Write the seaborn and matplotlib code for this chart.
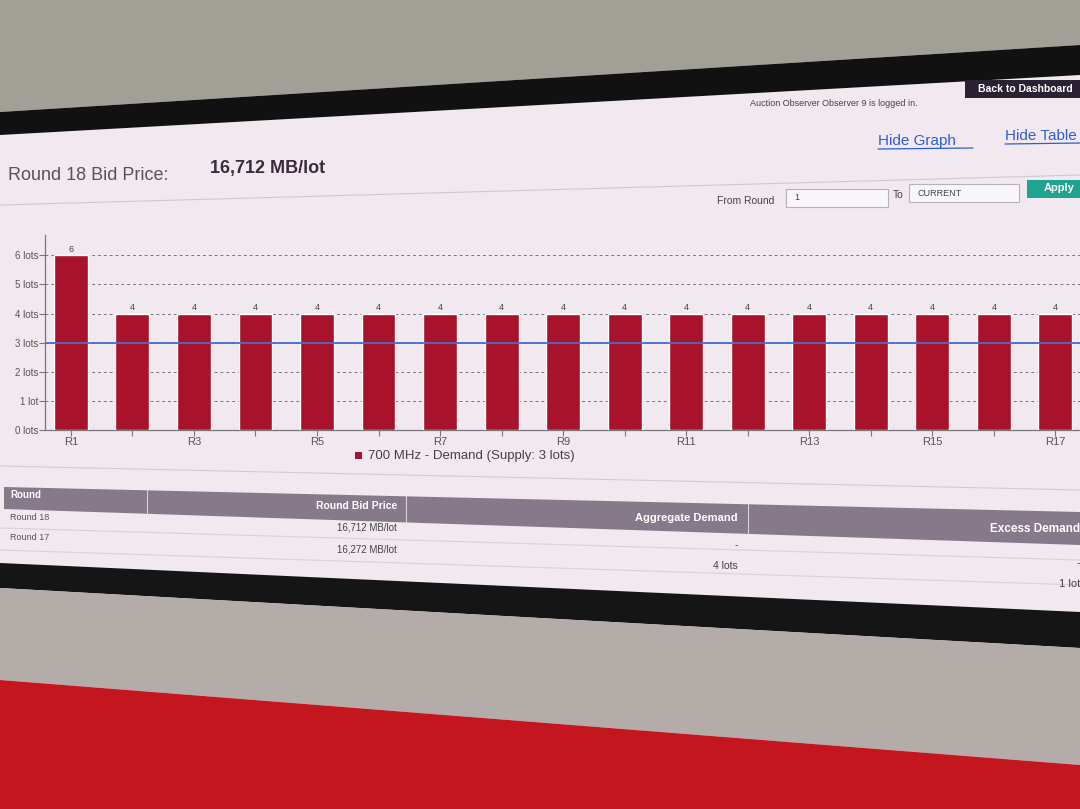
import matplotlib
matplotlib.use("Agg")
import matplotlib.pyplot as plt
import seaborn as sns
import pandas as pd
from matplotlib.patches import Polygon, Rectangle

# -----------------------
# Data
# -----------------------
rounds = [f"R{i}" for i in range(1, 18)]
demand = [6, 4, 4, 4, 4, 4, 4, 4, 4, 4, 4, 4, 4, 4, 4, 4, 4]
supply = 3
y_ticks = [0, 1, 2, 3, 4, 5, 6]
y_labels = ["0 lots", "1 lot", "2 lots", "3 lots", "4 lots", "5 lots", "6 lots"]

table_cols = ["Round", "Round Bid Price", "Aggregate Demand", "Excess Demand"]
table_rounds = ["Round 18", "Round 17"]
table_price = ["16,712 MB/lot", "16,272 MB/lot"]
table_agg = ["-", "4 lots"]
table_excess = ["-", "1 lot"]

df = pd.DataFrame({"round": rounds, "demand": demand})

BAR = "#a8122a"
LINE = "#4a6cc4"
SCREEN = "#f1e8f0"

sns.set_theme(style="white")
plt.rcParams["font.family"] = ["Liberation Sans", "DejaVu Sans"]

W, H = 1080, 809
fig = plt.figure(figsize=(W / 100, H / 100), dpi=100)
fig.patch.set_facecolor(SCREEN)


def fy(y):
    # pixel row -> figure fraction
    return 1 - y / H


def fpoly(pts, color, z=0):
    fig.patches.append(Polygon([(x / W, fy(y)) for x, y in pts], closed=True,
                               transform=fig.transFigure, facecolor=color,
                               edgecolor="none", zorder=z))


def fline(x0, y0, x1, y1, color="#d8d0da", lw=0.8):
    fig.lines.append(plt.Line2D([x0 / W, x1 / W], [fy(y0), fy(y1)],
                                transform=fig.transFigure, color=color, lw=lw))


# room around the screen
fpoly([(0, 0), (1080, 0), (1080, 45), (0, 112)], "#a29f97")
fpoly([(0, 112), (1080, 45), (1080, 75), (0, 135)], "#111111")
fpoly([(0, 563), (1080, 612), (1080, 648), (0, 588)], "#151515")
fpoly([(0, 588), (1080, 648), (1080, 765), (0, 680)], "#b4aca8")
fpoly([(0, 680), (1080, 765), (1080, 809), (0, 809)], "#c4161f")

# -----------------------
# Header
# -----------------------
fig.text(750 / W, fy(103), "Auction Observer Observer 9 is logged in.", fontsize=6.5,
         color="#444444", va="center")
fig.patches.append(Rectangle((965 / W, fy(98)), 115 / W, 18 / H, transform=fig.transFigure,
                             facecolor="#2a2233", edgecolor="none"))
fig.text(978 / W, fy(89), "Back to Dashboard", fontsize=7.5, color="white",
         fontweight="bold", va="center")
fig.text(878 / W, fy(141), "Hide Graph", fontsize=11, color="#2f5fc8", va="center")
fig.text(1005 / W, fy(136), "Hide Table", fontsize=11, color="#2f5fc8", va="center")
fline(878, 149, 973, 148, color="#2f5fc8", lw=0.9)
fline(1005, 144, 1080, 143, color="#2f5fc8", lw=0.9)

fig.text(8 / W, fy(176), "Round 18 Bid Price:", fontsize=13, color="#555555", va="center")
fig.text(210 / W, fy(168), "16,712 MB/lot", fontsize=13, color="#3a2c3a",
         fontweight="bold", va="center")
fline(0, 205, 1080, 175, color="#cfc8d2")

fig.text(717 / W, fy(201), "From Round", fontsize=7.5, color="#444444", va="center")
fig.patches.append(Rectangle((786 / W, fy(207)), 102 / W, 18 / H, transform=fig.transFigure,
                             facecolor="#f8f6f9", edgecolor="#b8b0ba", lw=0.8))
fig.text(794 / W, fy(198), "1", fontsize=6.5, color="#444444", va="center")
fig.text(893 / W, fy(195), "To", fontsize=7.5, color="#444444", va="center")
fig.patches.append(Rectangle((909 / W, fy(202)), 110 / W, 18 / H, transform=fig.transFigure,
                             facecolor="#f8f6f9", edgecolor="#b8b0ba", lw=0.8))
fig.text(918 / W, fy(193), "CURRENT", fontsize=6.5, color="#444444", va="center")
fig.patches.append(Rectangle((1027 / W, fy(198)), 60 / W, 18 / H, transform=fig.transFigure,
                             facecolor="#1fa58f", edgecolor="none"))
fig.text(1044 / W, fy(188), "Apply", fontsize=8, color="white", fontweight="bold", va="center")

# -----------------------
# Bar chart
# -----------------------
ax = fig.add_axes([45 / W, fy(430), 1035 / W, (430 - 235) / H])
ax.set_facecolor(SCREEN)
sns.barplot(data=df, x="round", y="demand", color=BAR, width=0.55,
            saturation=1, ax=ax, zorder=3)
ax.axhline(supply, color=LINE, lw=1.3, zorder=4)
for y in y_ticks[1:]:
    ax.axhline(y, color="#777777", lw=0.7, ls=(0, (3, 3)), zorder=1)
ax.bar_label(ax.containers[0], fontsize=6.5, color="#444444", padding=1)

ax.set_xlim(-0.42, 16.4)
ax.set_ylim(0, 6.7)
ax.set_yticks(y_ticks)
ax.set_yticklabels(y_labels, fontsize=7, color="#555555")
ax.set_xticks(range(len(rounds)))
ax.set_xticklabels([r if i % 2 == 0 else "" for i, r in enumerate(rounds)],
                   fontsize=8, color="#555555")
ax.tick_params(axis="both", length=4, width=0.8, color="#777777", left=True, bottom=True, pad=1)
ax.set_xlabel("")
ax.set_ylabel("")
for s in ["top", "right"]:
    ax.spines[s].set_visible(False)
for s in ["left", "bottom"]:
    ax.spines[s].set_color("#777777")
    ax.spines[s].set_linewidth(0.9)

# legend under the plot
fig.patches.append(Rectangle((355 / W, fy(459)), 7 / W, 7 / H, transform=fig.transFigure,
                             facecolor=BAR, edgecolor="none"))
fig.text(368 / W, fy(456), "700 MHz - Demand (Supply: 3 lots)", fontsize=9.5,
         color="#444444", va="center")
fline(0, 466, 1080, 490, color="#d2cbd5")

# -----------------------
# Table
# -----------------------
# header band, slanted like the photographed screen
fpoly([(4, 487), (1080, 512), (1080, 545), (4, 509)], "#86798a", z=1)
for xv in [147, 406, 748]:
    top = 487 + 25 * (xv - 4) / 1076
    bot = 509 + 36 * (xv - 4) / 1076
    fline(xv, top, xv, bot, color="#d8d0da")
fig.text(10 / W, fy(495), table_cols[0], fontsize=7, color="white", fontweight="bold", va="center")
fig.text(397 / W, fy(506), table_cols[1], fontsize=7.5, color="white", fontweight="bold",
         va="center", ha="right")
fig.text(738 / W, fy(518), table_cols[2], fontsize=8, color="white", fontweight="bold",
         va="center", ha="right")
fig.text(1080 / W, fy(529), table_cols[3], fontsize=8.5, color="white", fontweight="bold",
         va="center", ha="right")

row_y = [517, 538]
for i in range(len(table_rounds)):
    fig.text(10 / W, fy(row_y[i]), table_rounds[i], fontsize=6.5, color="#555555", va="center")
    fig.text(397 / W, fy(row_y[i] + 11), table_price[i], fontsize=7, color="#444444",
             va="center", ha="right")
    fig.text(738 / W, fy(row_y[i] + 28), table_agg[i], fontsize=7.5, color="#444444",
             va="center", ha="right")
    fig.text(1080 / W, fy(row_y[i] + 46), table_excess[i], fontsize=8, color="#444444",
             va="center", ha="right")
fline(0, 528, 1080, 560)
fline(0, 550, 1080, 585)

fig.savefig("out.png", dpi=100, facecolor=fig.get_facecolor())
